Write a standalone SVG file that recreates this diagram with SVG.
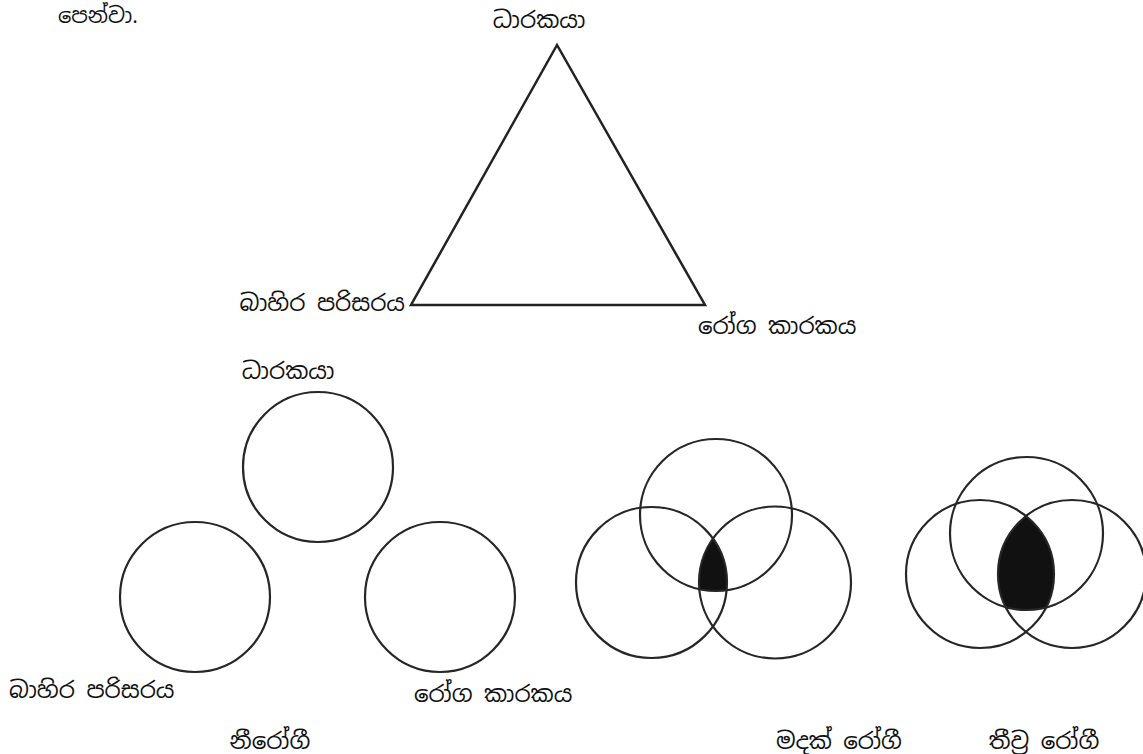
<svg xmlns="http://www.w3.org/2000/svg" width="1143" height="754" viewBox="0 0 1143 754">
<style>
.t{font-family:"Noto Sans Sinhala","Iskoola Pota","Noto Serif Sinhala","Noto Sans",sans-serif;font-size:23px;fill:#111}
.c{fill:none;stroke:#262626;stroke-width:2.2}
.tri{fill:none;stroke:#222;stroke-width:2.5;stroke-linejoin:miter}
</style>
<defs>
<clipPath id="m1"><circle cx="651.5" cy="582.5" r="75.5"/></clipPath>
<clipPath id="m2"><circle cx="775" cy="582.5" r="76"/></clipPath>
<clipPath id="s1"><circle cx="980" cy="574" r="74"/></clipPath>
<clipPath id="s2"><circle cx="1072" cy="574" r="74"/></clipPath>
</defs>
<rect width="1143" height="754" fill="#fff"/>
<text class="t" x="58" y="23" style="font-size:21px">පෙන්වා.</text>

<g id="triangle">
<polygon class="tri" points="557,45 411,305 705,305"/>
<text class="t" x="539" y="28" text-anchor="middle">ධාරකයා</text>
<text class="t" x="405" y="311" text-anchor="end">බාහිර පරිසරය</text>
<text class="t" x="698" y="334">රෝග කාරකය</text>
</g>

<g id="separate">
<circle class="c" cx="318" cy="467" r="75"/>
<circle class="c" cx="195" cy="597" r="75"/>
<circle class="c" cx="440" cy="597" r="75"/>
<text class="t" x="288" y="379" text-anchor="middle">ධාරකයා</text>
<text class="t" x="9" y="698">බාහිර පරිසරය</text>
<text class="t" x="414" y="702">රෝග කාරකය</text>
<text class="t" x="270" y="749" text-anchor="middle">නීරෝගී</text>
</g>

<g id="mild">
<g clip-path="url(#m1)"><circle cx="716" cy="515" r="76" fill="#111" clip-path="url(#m2)"/></g>
<circle class="c" cx="716" cy="515" r="76"/>
<circle class="c" cx="651.5" cy="582.5" r="75.5"/>
<circle class="c" cx="775" cy="582.5" r="76"/>
<text class="t" x="839" y="749" text-anchor="middle">මදක් රෝගී</text>
</g>

<g id="severe">
<g clip-path="url(#s1)"><circle cx="1026.5" cy="533.5" r="76.5" fill="#111" clip-path="url(#s2)"/></g>
<circle class="c" cx="1026.5" cy="533.5" r="76.5"/>
<circle class="c" cx="980" cy="574" r="74"/>
<circle class="c" cx="1072" cy="574" r="74"/>
<text class="t" x="1044" y="749" text-anchor="middle">තීව්‍ර රෝගී</text>
</g>
</svg>
